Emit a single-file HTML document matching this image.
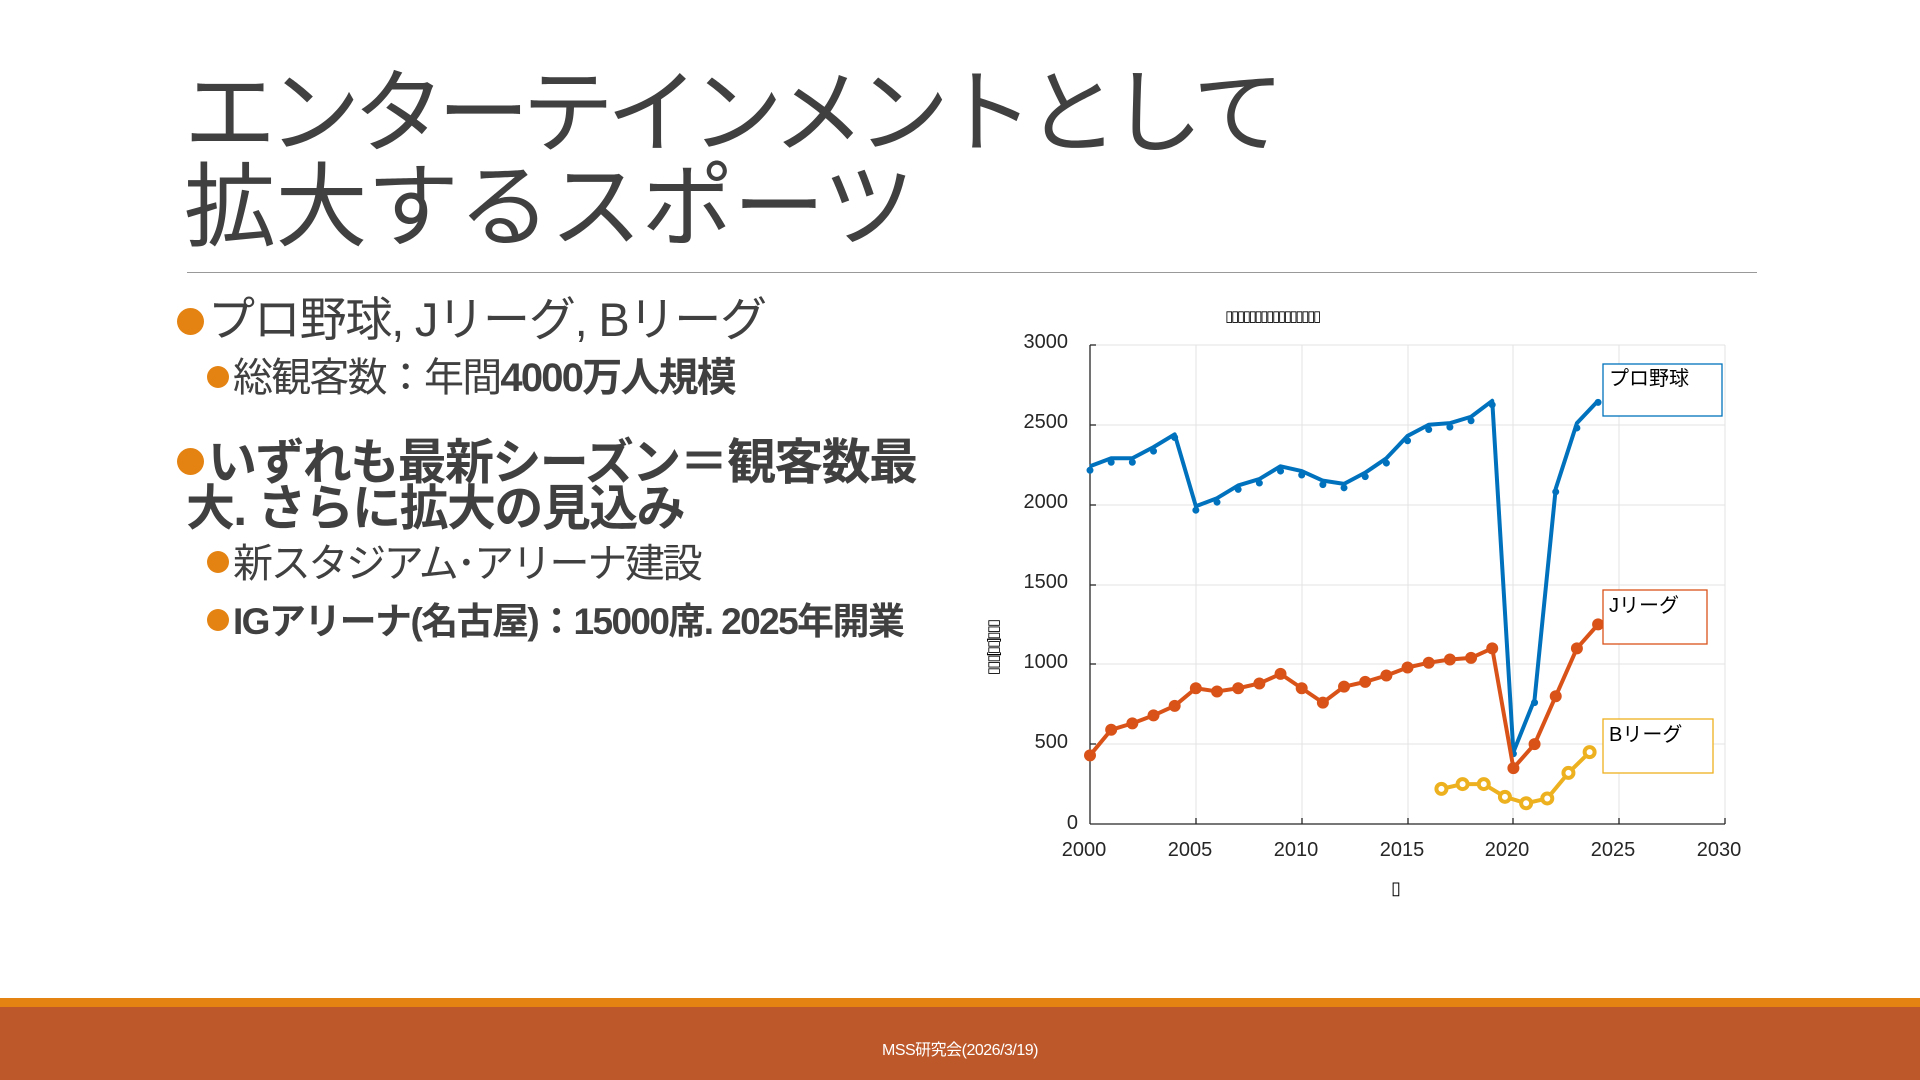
<!DOCTYPE html>
<html><head><meta charset="utf-8">
<style>
body{margin:0;width:1920px;height:1080px;background:#fff;position:relative;overflow:hidden;font-family:"Liberation Sans","Noto Sans CJK JP",sans-serif;color:#404040}
.t{position:absolute;white-space:nowrap}
.b{position:absolute;border-radius:50%;background:#E48312}
</style></head><body>
<div class="t" style="left:184px;top:67px;font-size:92px;line-height:94px;letter-spacing:-7.5px;color:#404040">エンターテインメントとして<br><span style="letter-spacing:-0.5px">拡大するスポーツ</span></div>
<div style="position:absolute;left:187px;top:272px;width:1570px;height:1px;background:#999"></div>

<div class="b" style="left:177px;top:308px;width:27px;height:27px"></div>
<div class="t" style="left:208px;top:292px;font-size:47px;line-height:56px;letter-spacing:-1.2px">プロ野球, Jリーグ, Bリーグ</div>
<div class="b" style="left:207px;top:366px;width:22px;height:22px"></div>
<div class="t" style="left:233px;top:354px;font-size:40px;line-height:48px;font-weight:bold;letter-spacing:-1.8px;color:#404040"><span style="font-weight:normal">総観客数：年間</span>4000万人規模</div>

<div class="b" style="left:177px;top:448px;width:27px;height:27px"></div>
<div class="t" style="left:186px;top:440px;font-size:49px;line-height:46px;font-weight:bold;letter-spacing:-1.6px"><span style="margin-left:22px">いずれも最新シーズン＝観客数最</span><br>大. さらに拡大の見込み</div>
<div class="b" style="left:207px;top:551px;width:22px;height:22px"></div>
<div class="t" style="left:233px;top:540px;font-size:40px;line-height:48px;letter-spacing:-2.3px">新スタジアム･アリーナ建設</div>
<div class="b" style="left:207px;top:609px;width:22px;height:22px"></div>
<div class="t" style="left:233px;top:598px;font-size:37px;line-height:48px;font-weight:bold;letter-spacing:-1.6px">IGアリーナ(名古屋)：15000席. 2025年開業</div>

<svg style="position:absolute;left:0;top:0" width="1920" height="1080">
<g stroke="#e3e3e3" stroke-width="1">
<line x1="1090" y1="345" x2="1725" y2="345"/><line x1="1090" y1="425" x2="1725" y2="425"/><line x1="1090" y1="505" x2="1725" y2="505"/><line x1="1090" y1="585" x2="1725" y2="585"/><line x1="1090" y1="664" x2="1725" y2="664"/><line x1="1090" y1="744" x2="1725" y2="744"/>
<line x1="1196" y1="345" x2="1196" y2="824"/><line x1="1302" y1="345" x2="1302" y2="824"/><line x1="1408" y1="345" x2="1408" y2="824"/><line x1="1513" y1="345" x2="1513" y2="824"/><line x1="1619" y1="345" x2="1619" y2="824"/><line x1="1725" y1="345" x2="1725" y2="824"/>
</g>
<g stroke="#262626" stroke-width="1.3"><line x1="1090" y1="345" x2="1090" y2="824"/><line x1="1090" y1="824" x2="1725" y2="824"/>
<line x1="1196" y1="824" x2="1196" y2="818"/><line x1="1302" y1="824" x2="1302" y2="818"/><line x1="1408" y1="824" x2="1408" y2="818"/><line x1="1513" y1="824" x2="1513" y2="818"/><line x1="1619" y1="824" x2="1619" y2="818"/><line x1="1725" y1="824" x2="1725" y2="818"/>
<line x1="1090" y1="345" x2="1096" y2="345"/><line x1="1090" y1="425" x2="1096" y2="425"/><line x1="1090" y1="505" x2="1096" y2="505"/><line x1="1090" y1="585" x2="1096" y2="585"/><line x1="1090" y1="664" x2="1096" y2="664"/><line x1="1090" y1="744" x2="1096" y2="744"/></g>
<g font-size="20" fill="#262626" text-anchor="end" font-family="Liberation Sans,sans-serif">
<text x="1068" y="348">3000</text><text x="1068" y="428">2500</text><text x="1068" y="508">2000</text><text x="1068" y="588">1500</text><text x="1068" y="668">1000</text><text x="1068" y="748">500</text><text x="1078" y="829">0</text></g>
<g font-size="20" fill="#262626" text-anchor="middle" font-family="Liberation Sans,sans-serif">
<text x="1084" y="856">2000</text><text x="1190" y="856">2005</text><text x="1296" y="856">2010</text><text x="1402" y="856">2015</text><text x="1507" y="856">2020</text><text x="1613" y="856">2025</text><text x="1719" y="856">2030</text></g>
<text x="1272" y="321" font-size="15" text-anchor="middle" fill="#000" letter-spacing="-2.4">▯▯▯▯▯▯▯▯▯▯▯▯▯▯▯▯</text>
<text x="1396" y="894" font-size="18" text-anchor="middle" fill="#000">▯</text>
<text transform="translate(998,648) rotate(-90)" font-size="15" text-anchor="middle" fill="#000" letter-spacing="-2">▯▯▯[▯▯]▯▯▯</text>
<g transform="matrix(21.17,0,0,-0.1597,-41250,824)" fill="none" stroke-linejoin="round">
<polyline vector-effect="non-scaling-stroke" stroke="#0072BD" stroke-width="4" points="2000,2240 2001,2290 2002,2290 2003,2360 2004,2440 2005,1990 2006,2040 2007,2120 2008,2160 2009,2240 2010,2210 2011,2150 2012,2130 2013,2200 2014,2290 2015,2430 2016,2500 2017,2510 2018,2550 2019,2650 2020,450 2021,780 2022,2100 2023,2510 2024,2650"/>
<path vector-effect="non-scaling-stroke" stroke="#0072BD" stroke-width="7" stroke-linecap="round" d="M2000,2215h0M2001,2265h0M2002,2265h0M2003,2335h0M2004,2420h0M2005,1965h0M2006,2015h0M2007,2095h0M2008,2135h0M2009,2210h0M2010,2185h0M2011,2125h0M2012,2105h0M2013,2175h0M2014,2260h0M2015,2400h0M2016,2470h0M2017,2485h0M2018,2525h0M2019,2625h0M2020,440h0M2021,760h0M2022,2080h0M2023,2480h0M2024,2640h0"/>
<polyline vector-effect="non-scaling-stroke" stroke="#D95319" stroke-width="4" points="2000,430 2001,590 2002,630 2003,680 2004,740 2005,850 2006,830 2007,850 2008,880 2009,940 2010,850 2011,760 2012,860 2013,890 2014,930 2015,980 2016,1010 2017,1030 2018,1040 2019,1100 2020,350 2021,500 2022,800 2023,1100 2024,1250"/>
<path vector-effect="non-scaling-stroke" stroke="#D95319" stroke-width="12" stroke-linecap="round" d="M2000,430h0M2001,590h0M2002,630h0M2003,680h0M2004,740h0M2005,850h0M2006,830h0M2007,850h0M2008,880h0M2009,940h0M2010,850h0M2011,760h0M2012,860h0M2013,890h0M2014,930h0M2015,980h0M2016,1010h0M2017,1030h0M2018,1040h0M2019,1100h0M2020,350h0M2021,500h0M2022,800h0M2023,1100h0M2024,1250h0"/>
<polyline vector-effect="non-scaling-stroke" stroke="#EDB120" stroke-width="4" points="2016.6,220 2017.6,250 2018.6,250 2019.6,170 2020.6,130 2021.6,160 2022.6,320 2023.6,450"/>
<path vector-effect="non-scaling-stroke" stroke="#EDB120" stroke-width="14" stroke-linecap="round" d="M2016.6,220h0M2017.6,250h0M2018.6,250h0M2019.6,170h0M2020.6,130h0M2021.6,160h0M2022.6,320h0M2023.6,450h0"/>
<path vector-effect="non-scaling-stroke" stroke="#fff" stroke-width="6" stroke-linecap="round" d="M2016.6,220h0M2017.6,250h0M2018.6,250h0M2019.6,170h0M2020.6,130h0M2021.6,160h0M2022.6,320h0M2023.6,450h0"/>
</g>
<g fill="#fff" stroke-width="1.3">
<rect x="1603" y="364" width="119" height="52" stroke="#0072BD"/>
<rect x="1603" y="590" width="104" height="54" stroke="#D95319"/>
<rect x="1603" y="719" width="110" height="54" stroke="#EDB120"/>
</g>
<g font-size="20" fill="#000" font-family="Liberation Sans,Noto Sans CJK JP,sans-serif">
<text x="1609" y="385">プロ野球</text><text x="1609" y="612">Jリーグ</text><text x="1609" y="741">Bリーグ</text></g>
</svg>

<div style="position:absolute;left:0;top:998px;width:1920px;height:9px;background:#E48312"></div>
<div style="position:absolute;left:0;top:1007px;width:1920px;height:73px;background:#BC582A"></div>
<div class="t" style="left:0;width:1920px;text-align:center;top:1036px;font-size:16px;letter-spacing:-0.5px;color:#fff">MSS研究会(2026/3/19)</div>
</body></html>
